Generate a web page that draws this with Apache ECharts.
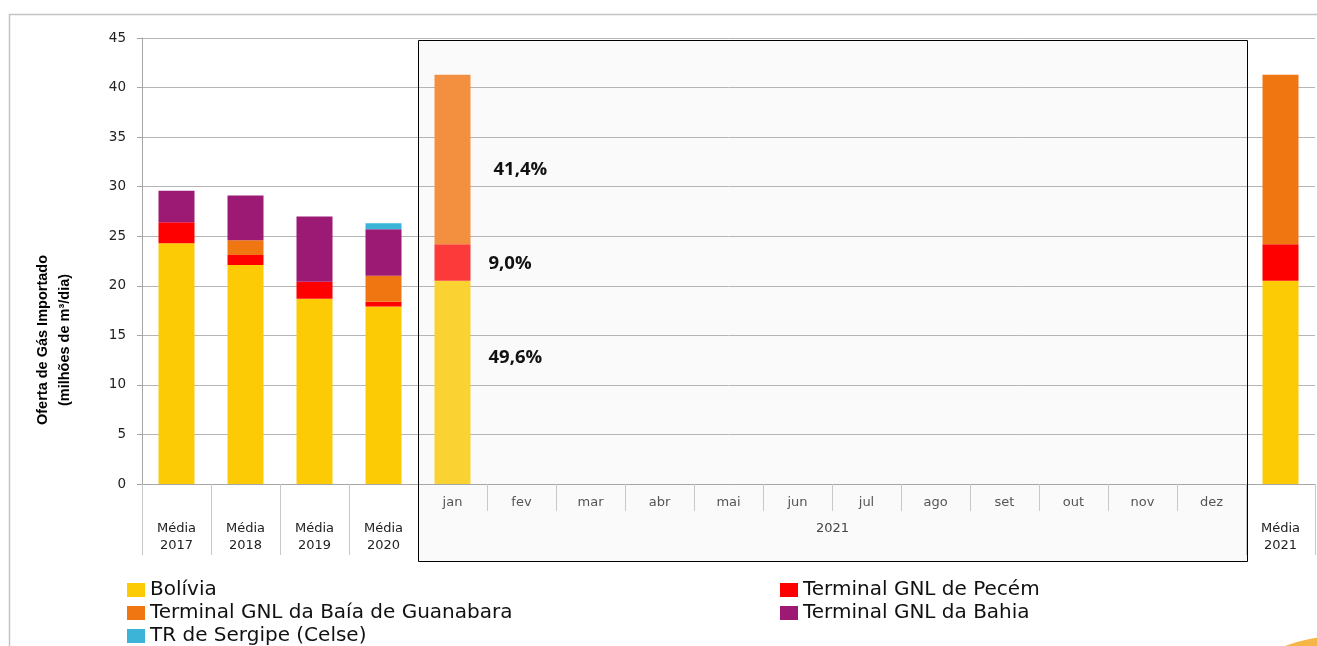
<!DOCTYPE html>
<html>
<head>
<meta charset="utf-8">
<script src="https://cdn.jsdelivr.net/npm/echarts@6/dist/echarts.min.js"></script>
<style>
html,body{margin:0;padding:0;background:#fff;}
#c{width:1317px;height:646px;}
</style>
</head>
<body>
<div id="c"></div>
<script>
// ---- data ----
const categories = ['Média\n2017','Média\n2018','Média\n2019','Média\n2020','jan','fev','mar','abr','mai','jun','jul','ago','set','out','nov','dez','Média\n2021'];
const monthLabels = ['','','','','jan','fev','mar','abr','mai','jun','jul','ago','set','out','nov','dez',''];
const groupLabel = '2021';
const seriesNames = ['Bolívia','Terminal GNL de Pecém','Terminal GNL da Baía de Guanabara','Terminal GNL da Bahia','TR de Sergipe (Celse)'];
const bolivia    = [24.3, 22.1, 18.7, 17.9, 20.5, null,null,null,null,null,null,null,null,null,null,null, 20.5];
const pecem      = [2.1, 1.0, 1.7, 0.5, 3.7, null,null,null,null,null,null,null,null,null,null,null, 3.7];
const guanabara  = [0, 1.5, 0, 2.6, 17.1, null,null,null,null,null,null,null,null,null,null,null, 17.1];
const bahia      = [3.2, 4.5, 6.6, 4.7, 0, null,null,null,null,null,null,null,null,null,null,null, 0];
const sergipe    = [0, 0, 0, 0.6, 0, null,null,null,null,null,null,null,null,null,null,null, 0];
const janShares  = ['49,6%','9,0%','41,4%'];
const yTicks = {min:0, max:45, interval:5};

// ---- styles ----
const colors = ['#fccb05','#ff0000','#f07612','#9c1a74','#3cb4d8'];
const janColors = ['#fad333','#fc3a3a','#f39040'];
const labelOffsets = [[0,-25],[0,1],[5,10]];
const FONT = 'DejaVu Sans';

const chart = echarts.init(document.getElementById('c'));
const valuesList = [bolivia, pecem, guanabara, bahia, sergipe];
const JAN = 4;

const series = valuesList.map((vals, si) => ({
  name: seriesNames[si],
  type: 'bar',
  stack: 'total',
  barWidth: 36,
  xAxisIndex: 0,
  itemStyle: { color: colors[si] },
  data: vals.map((v, i) => {
    if (i === JAN && si < 3) {
      return { value: v, itemStyle: { color: janColors[si] },
        label: { show: true, position: 'right', distance: 18, offset: labelOffsets[si],
          formatter: janShares[si], fontFamily: 'Open Sans', fontWeight: 'bold', fontSize: 18.5, color: '#111' } };
    }
    return v;
  }),
  z: 5
}));

const tickBoundaries = [0,1,2,3,4,16];
const legendText = { fontFamily: FONT, fontSize: 20, color: '#111' };

chart.setOption({
  animation: false,
  backgroundColor: '#fff',
  grid: { left: 142, right: 2, top: 38, bottom: 162, containLabel: false },
  legend: [
    { data: [seriesNames[0], seriesNames[2], seriesNames[4]], orient: 'vertical', left: 127, top: 580, height: 90,
      itemWidth: 18, itemHeight: 14, itemGap: 3, icon: 'rect', padding: 0, textStyle: legendText },
    { data: [seriesNames[1], seriesNames[3]], orient: 'vertical', left: 780, top: 580, height: 90,
      itemWidth: 18, itemHeight: 14, itemGap: 3, icon: 'rect', padding: 0, textStyle: legendText }
  ],
  xAxis: [
    { type: 'category', data: categories, position: 'bottom',
      axisLine: { lineStyle: { color: '#a6a6a6' } },
      axisTick: { show: true, length: 27, lineStyle: { color: '#c8c8c8' } },
      axisLabel: { interval: 0, margin: 12, color: '#555', fontFamily: FONT, fontSize: 13,
        formatter: (v, i) => monthLabels[i] } },
    { type: 'category', data: categories, position: 'bottom',
      axisLine: { show: false },
      axisTick: { show: true, length: 71, interval: (i) => tickBoundaries.indexOf(i) >= 0, lineStyle: { color: '#c8c8c8' } },
      axisLabel: { interval: 0, margin: 36, color: '#222', fontFamily: FONT, fontSize: 13, lineHeight: 17,
        formatter: (v, i) => monthLabels[i] === '' ? v : '' } }
  ],
  yAxis: {
    type: 'value', min: yTicks.min, max: yTicks.max, interval: yTicks.interval,
    axisLine: { show: true, lineStyle: { color: '#a6a6a6' } },
    axisTick: { show: true, length: 5, lineStyle: { color: '#a6a6a6' } },
    axisLabel: { margin: 16, color: '#222', fontFamily: FONT, fontSize: 13.5 },
    splitLine: { lineStyle: { color: '#b5b5b5' } }
  },
  series: series
});

// frame box around the months, from the axis scales
const xa = v => chart.convertToPixel({ xAxisIndex: 0 }, v);
const ya = v => chart.convertToPixel({ yAxisIndex: 0 }, v);
const band = xa('fev') - xa('jan');
const boxL = Math.round(xa('jan') - band / 2);
const boxR = Math.round(xa('dez') + band / 2) + 1;
const boxT = Math.round(ya(yTicks.max)) + 2;
const y0 = Math.round(ya(0));
const boxB = y0 + 77;

chart.setOption({
  graphic: [
    { type: 'rect', z: -10, silent: true, shape: { x: boxL, y: boxT, width: boxR - boxL, height: boxB - boxT },
      style: { fill: '#fafafa', stroke: null } },
    { type: 'rect', z: 100, silent: true, shape: { x: boxL + 0.5, y: boxT + 0.5, width: boxR - boxL, height: boxB - boxT },
      style: { fill: null, stroke: '#000', lineWidth: 1 } },
    { type: 'text', z: 100, silent: true, x: (boxL + boxR) / 2, y: y0 + 45,
      style: { text: groupLabel, align: 'center', verticalAlign: 'middle', fontFamily: FONT, fontSize: 13, fill: '#444' } },
    { type: 'text', z: 100, silent: true, x: 54, y: 340, rotation: Math.PI / 2,
      style: { text: 'Oferta de Gás Importado\n(milhões de m³/dia)', align: 'center', verticalAlign: 'middle', lineHeight: 22,
        fontFamily: 'Liberation Sans Narrow, Liberation Sans', fontWeight: 'bold', fontSize: 14.5, fill: '#000' } },
    { type: 'polyline', z: -5, silent: true, shape: { points: [[9.5, 646], [9.5, 14.5], [1317, 14.5]] },
      style: { stroke: '#c4c4c4', lineWidth: 1.5, fill: null } },
    { type: 'circle', z: 1, silent: true, shape: { cx: 1340, cy: 793, r: 157 }, style: { fill: '#f6b547' } }
  ]
});
</script>
</body>
</html>
